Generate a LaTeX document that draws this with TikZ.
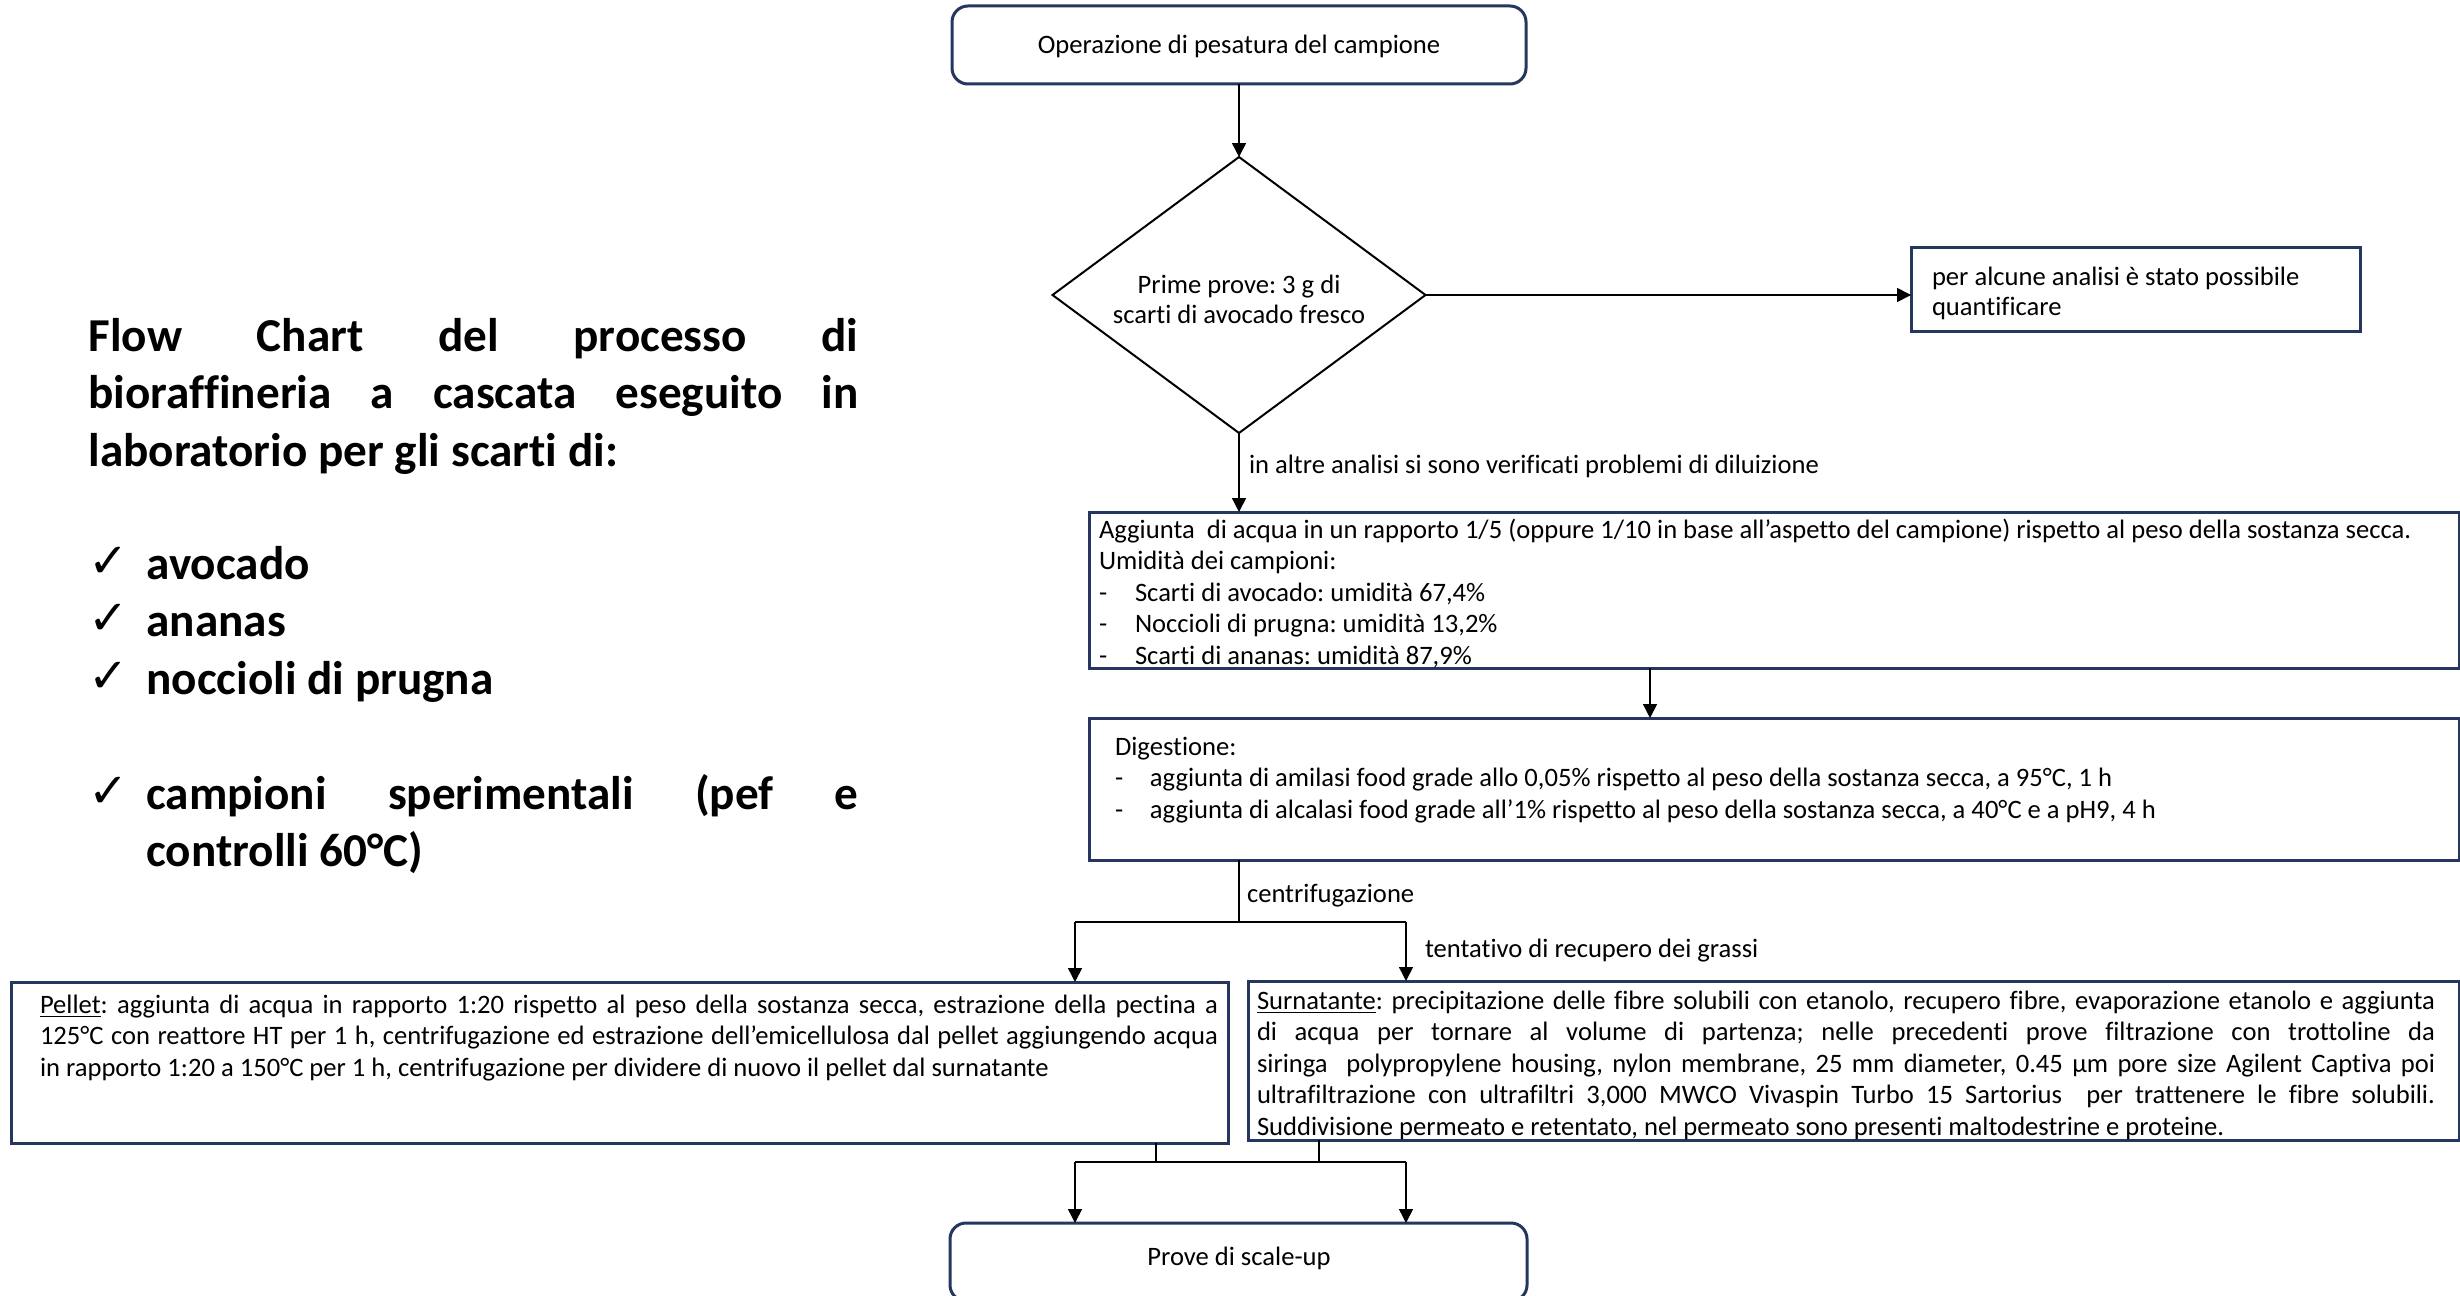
\documentclass[tikz,border=0pt]{standalone}
\usepackage{fontspec}
\setmainfont{Carlito}[Ligatures=NoCommon]
\newfontfamily\chkfont{DejaVu Sans}
\usetikzlibrary{arrows.meta,shapes.geometric,calc}
\definecolor{navy}{RGB}{38,55,95}
\newcommand{\bodyfont}{\fontsize{13.3pt}{15.75pt}\selectfont\frenchspacing}
\newcommand{\titlefont}{\fontsize{23.6pt}{28.75pt}\selectfont\bfseries\frenchspacing}
\newcommand{\jline}[1]{\makebox[\linewidth][s]{#1}}
\newcommand{\chkitem}{\makebox[29pt][l]{\raisebox{1pt}{\chkfont\fontsize{24pt}{24pt}\selectfont ✓}}}
\begin{document}
\begin{tikzpicture}[x=0.5pt,y=-0.5pt,
  box/.style={draw=navy, line width=1.5pt, inner sep=0pt, outer sep=0pt, rectangle},
  rbox/.style={box, rounded corners=8pt, font=\bodyfont},
  arr/.style={-{Triangle[length=7pt,width=7pt]}, line width=0.75pt},
  ln/.style={line width=0.75pt},
  txt/.style={anchor=base west, inner sep=0pt, outer sep=0pt, font=\bodyfont}]
\useasboundingbox (0,0) rectangle (2460,1295);
\clip (0,0) rectangle (2460,1295);
\fill[white] (0,0) rectangle (2460,1295);

% ---------- left title ----------
\node[anchor=base west, inner sep=0pt] (title) at (88,351)
 {\parbox[t]{385pt}{\titlefont
  \jline{Flow Chart del processo di}\\
  \jline{bioraffineria a cascata eseguito in}\\
  laboratorio per gli scarti di:}};
\node[anchor=base west, inner sep=0pt] (list) at (88,579)
 {\parbox[t]{385pt}{\titlefont
  \chkitem avocado\\
  \chkitem ananas\\
  \chkitem noccioli di prugna\\[28.75pt]
  \chkitem\makebox[356pt][s]{campioni sperimentali (pef e}\\
  \hspace*{29pt}controlli 60°C)}};

% ---------- boxes ----------
\node[box, rounded corners=8pt, minimum width=287pt, minimum height=39pt] (top) at (1239,45) {};
\node[txt, anchor=base] (topt) at (1239,54) {Operazione di pesatura del campione};
\node[draw, line width=1pt, diamond, shape aspect=1.35, minimum width=186.5pt, minimum height=138pt,
      inner sep=0pt, outer sep=0pt] (dia) at (1239,295) {};
\node[txt, anchor=base] (diat) at (1239,293)
 {\parbox[t]{180pt}{\centering\bodyfont\baselineskip=15pt Prime prove: 3 g di\\scarti di avocado fresco}};
\node[box, minimum width=224.5pt, minimum height=42pt] (alc) at (2135.5,289) {};
\node[box, minimum width=685pt, minimum height=78pt] (b2) at (1774,590) {};
\node[box, minimum width=685pt, minimum height=71pt] (b3) at (1774,789) {};
\node[box, minimum width=608.5pt, minimum height=80.5pt] (pel) at (619.5,1062.5) {};
\node[box, minimum width=605.5pt, minimum height=79.5pt] (sur) at (1853.5,1060.5) {};
\node[box, rounded corners=8pt, minimum width=288.5pt, minimum height=39pt] (prove) at (1238.5,1262) {};
\node[txt, anchor=base] (provet) at (1239,1265) {Prove di scale-up};

% ---------- box texts ----------
\node[txt] (alct) at (1932,285)
 {\parbox[t]{215pt}{\bodyfont\baselineskip=15pt
  per alcune analisi è stato possibile\\quantificare}};
\node[txt] (b2t) at (1099,538)
 {\parbox[t]{675pt}{\bodyfont
  Aggiunta\ \ di acqua in un rapporto 1/5 (oppure 1/10 in base all’aspetto del campione) rispetto al peso della sostanza secca.\\
  Umidità dei campioni:\\
  \makebox[18pt][l]{-}Scarti di avocado: umidità 67,4\%\\
  \makebox[18pt][l]{-}Noccioli di prugna: umidità 13,2\%\\
  \makebox[18pt][l]{-}Scarti di ananas: umidità 87,9\%}};
\node[txt] (b3t) at (1115,755)
 {\parbox[t]{665pt}{\bodyfont
  Digestione:\\
  \makebox[17.5pt][l]{-}aggiunta di amilasi food grade allo 0,05\% rispetto al peso della sostanza secca, a 95°C, 1 h\\
  \makebox[17.5pt][l]{-}aggiunta di alcalasi food grade all’1\% rispetto al peso della sostanza secca, a 40°C e a pH9, 4 h}};
\node[txt] (pelt) at (40,1013)
 {\parbox[t]{589pt}{\bodyfont
  \jline{\underline{Pellet}: aggiunta di acqua in rapporto 1:20 rispetto al peso della sostanza secca, estrazione della pectina a}\\
  \jline{125°C con reattore HT per 1 h, centrifugazione ed estrazione dell’emicellulosa dal pellet aggiungendo acqua}\\
  in rapporto 1:20 a 150°C per 1 h, centrifugazione per dividere di nuovo il pellet dal surnatante}};
\node[txt] (surt) at (1257,1009)
 {\parbox[t]{589pt}{\bodyfont
  \jline{\underline{Surnatante}: precipitazione delle fibre solubili con etanolo, recupero fibre, evaporazione etanolo e aggiunta}\\
  \jline{di acqua per tornare al volume di partenza; nelle precedenti prove filtrazione con trottoline da}\\
  \jline{siringa\ \ polypropylene housing, nylon membrane, 25 mm diameter, 0.45 µm pore size Agilent Captiva poi}\\
  \jline{ultrafiltrazione con ultrafiltri 3,000 MWCO Vivaspin Turbo 15 Sartorius\ \ per trattenere le fibre solubili.}\\
  Suddivisione permeato e retentato, nel permeato sono presenti maltodestrine e proteine.}};

% ---------- connectors ----------
\draw[arr] (top.south) -- (dia.north);
\draw[arr] (dia.east) -- (dia.east -| alc.west);
\draw[arr] (dia.south) -- (dia.south |- b2.north);
\node[txt] (lab1) at (1249,473) {in altre analisi si sono verificati problemi di diluizione};
\coordinate (c23) at (1650,668);
\draw[arr] (c23) -- (c23 |- b3.north);

\coordinate (split) at (1239,922);
\coordinate (splitL) at (1075,922);
\coordinate (splitR) at (1406,922);
\draw[ln] (split |- b3.south) -- (split);
\draw[ln] (splitL) -- (splitR);
\draw[arr] (splitL) -- (splitL |- pel.north);
\draw[arr] (splitR) -- (splitR |- sur.north);
\node[txt] (lab2) at (1247,902) {centrifugazione};
\node[txt] (lab3) at (1425,957) {tentativo di recupero dei grassi};

\coordinate (joinL) at (1075,1162);
\coordinate (joinR) at (1406,1162);
\coordinate (pelout) at (1156,1162);
\coordinate (surout) at (1319,1162);
\draw[ln] (pelout |- pel.south) -- (pelout);
\draw[ln] (surout |- sur.south) -- (surout);
\draw[ln] (joinL) -- (joinR);
\draw[arr] (joinL) -- (joinL |- prove.north);
\draw[arr] (joinR) -- (joinR |- prove.north);
\end{tikzpicture}
\end{document}
